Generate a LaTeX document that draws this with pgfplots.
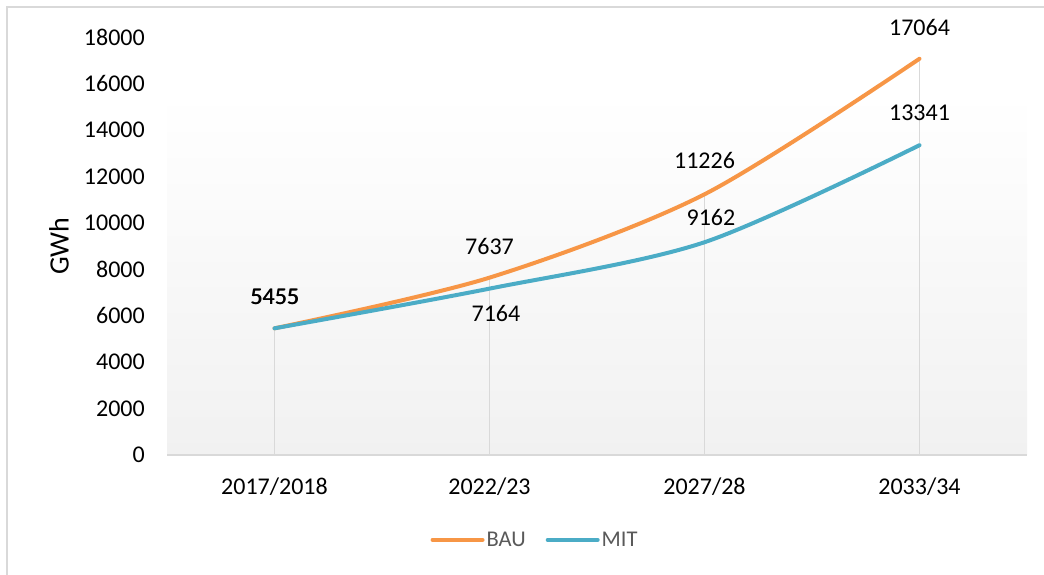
\documentclass[border=0pt]{standalone}
\usepackage{pgfplots}
\pgfplotsset{compat=1.18}
\usepackage{fontspec}
\setmainfont{Carlito}
\definecolor{bau}{RGB}{247,150,70}
\definecolor{mit}{RGB}{75,172,198}
\definecolor{gridc}{RGB}{217,217,217}
\definecolor{bgc}{RGB}{241,241,241}
\definecolor{legc}{RGB}{89,89,89}
\begin{document}
\begin{tikzpicture}[x=1pt,y=1pt]
\useasboundingbox (0,0) rectangle (1044,575);
\draw[gridc, line width=1.5pt] (7,-2) -- (7,568) -- (1046,568);
\shade[top color=white, bottom color=bgc] (167,120) rectangle (1027,482);
\begin{axis}[
  at={(167pt,120pt)}, anchor=south west, scale only axis,
  width=860pt, height=418pt,
  xmin=-0.5, xmax=3.5, ymin=0, ymax=18000,
  clip=false,
  axis x line*=bottom, axis y line*=left,
  separate axis lines,
  x axis line style={draw=gridc, line width=2pt, -},
  y axis line style={draw=none, -},
  major tick length=0pt,
  xtick={0,1,2,3},
  xticklabels={2017/2018,2022/23,2027/28,2033/34},
  ytick={0,2000,...,18000},
  scaled y ticks=false,
  yticklabel={\pgfmathprintnumber[fixed, precision=0, set thousands separator={}, assume math mode=true]{\tick}},
  yticklabel style={font=\fontsize{24}{28}\selectfont, inner sep=0pt, xshift=-22pt},
  xticklabel style={font=\fontsize{24}{28}\selectfont, inner sep=0pt, yshift=-23pt},
  legend style={at={(0.428,-0.203)}, anchor=center, draw=none, fill=none,
    legend columns=2, font=\fontsize{22.5}{26}\selectfont, text=legc,
    /tikz/every even column/.append style={column sep=18pt}},
  legend cell align=left,
  legend image code/.code={\draw[#1, line width=4pt, line cap=round] (0pt,0pt) -- (50pt,0pt);},
]
\addplot[ycomb, gridc, line width=1.5pt, forget plot] coordinates {(0,5455) (1,7637) (2,11226) (3,17064)};
\addplot[bau, line width=4pt, line cap=round, smooth, no markers] coordinates {(0,5455) (1,7637) (2,11226) (3,17064)};
\addlegendentry{BAU}
\addplot[mit, line width=4pt, line cap=round, smooth, no markers] coordinates {(0,5455) (1,7164) (2,9162) (3,13341)};
\addlegendentry{MIT}
\begin{scope}[every node/.style={font=\fontsize{24}{28}\selectfont, inner sep=0pt}]
\node at (axis cs:0,6804) {5455};
\node at (axis cs:0.003,6810) {5455};
\node at (axis cs:1,9000) {7637};
\node at (axis cs:1.03,6115) {7164};
\node at (axis cs:2,12703) {11226};
\node at (axis cs:2.03,10249) {9162};
\node at (axis cs:3,18388) {17064};
\node at (axis cs:3,14727) {13341};
\end{scope}
\end{axis}
\node[rotate=90, font=\fontsize{28}{32}\selectfont, inner sep=0pt] at (59,329) {GWh};
\end{tikzpicture}
\end{document}
